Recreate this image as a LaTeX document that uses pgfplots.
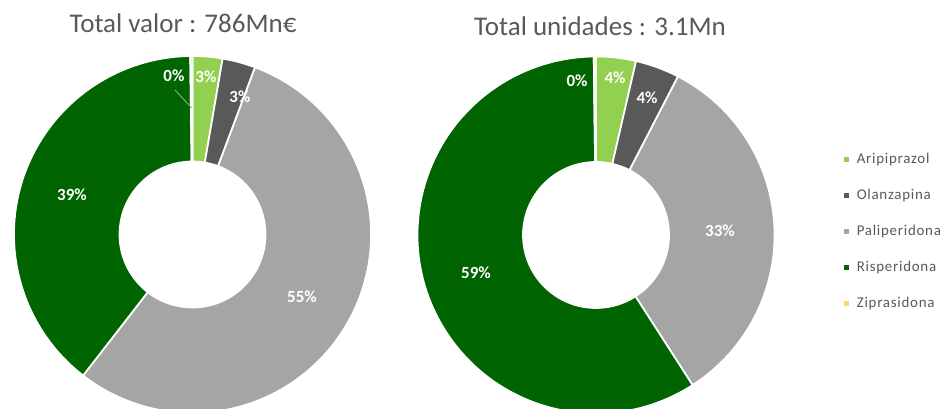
\documentclass[border=0pt]{standalone}
\usepackage{pgfplots}
\pgfplotsset{compat=1.18}
\usepackage{pgfplotstable}
\usepackage{fontspec}
\setmainfont{Carlito}
\newfontfamily\legfont[LetterSpace=5]{Carlito}

\definecolor{cArip}{HTML}{92D050}
\definecolor{cOlan}{HTML}{595959}
\definecolor{cPali}{HTML}{A5A5A5}
\definecolor{cRisp}{HTML}{006400}
\definecolor{cZipr}{HTML}{FFD966}
\definecolor{txt}{HTML}{595959}
\definecolor{leader}{HTML}{A6A6A6}

% share of each product (percent)
\pgfplotstableread{
name value color
Aripiprazol 2.7 cArip
Olanzapina 3.0 cOlan
Paliperidona 54.8 cPali
Risperidona 39.3 cRisp
Ziprasidona 0.2 cZipr
}\valor

\pgfplotstableread{
name value color
Aripiprazol 3.6 cArip
Olanzapina 4.0 cOlan
Paliperidona 33.3 cPali
Risperidona 58.9 cRisp
Ziprasidona 0.2 cZipr
}\unidades

\def\Ro{133.875pt}
\def\Ri{54.75pt}
\def\Rd{79.125pt}

\newcommand{\donut}[3]{%
  \gdef\acc{0}%
  \pgfplotstablegetrowsof{#3}%
  \pgfmathtruncatemacro\nrows{\pgfplotsretval-1}%
  \foreach \i in {0,...,\nrows}{%
    \pgfplotstablegetelem{\i}{value}\of{#3}\let\v\pgfplotsretval
    \pgfplotstablegetelem{\i}{color}\of{#3}\let\c\pgfplotsretval
    \pgfmathsetmacro\aS{90-3.6*\acc}%
    \pgfmathsetmacro\nacc{\acc+\v}%
    \pgfmathsetmacro\aE{90-3.6*\nacc}%
    \pgfmathsetmacro\aB{\aE+180}%
    \edef\tmp{\noexpand\fill[\c,draw=white,line width=1.3pt] (axis cs:#1,#2) ++(\aS:\Ro) arc[start angle=\aS,end angle=\aE,radius=\Ro] -- ++(\aB:\Rd) arc[start angle=\aE,end angle=\aS,radius=\Ri] -- cycle;}%
    \tmp
    \xdef\acc{\nacc}%
  }%
}

\tikzset{
  lab/.style={text=white,font=\fontsize{12.75}{14}\selectfont\bfseries,inner sep=0pt},
  ttl/.style={text=txt,font=\fontsize{20.25}{24}\selectfont,inner sep=0pt,anchor=base},
  leg/.style={text=txt,font=\legfont\fontsize{11.2}{13}\selectfont,inner sep=0pt,anchor=west},
}

\begin{document}
\begin{tikzpicture}
\begin{axis}[
  x=0.75pt, y=0.75pt,
  xmin=0, xmax=947, ymin=0, ymax=409,
  hide axis, clip=true,
]
\coordinate (ll) at (axis cs:0,0);
\coordinate (ur) at (axis cs:947,409);

\donut{192.5}{174.5}{\valor}
\donut{596}{174}{\unidades}

% titles
\node[ttl] at (axis cs:183,376) {Total valor : 786Mn€};
\node[ttl] at (axis cs:600,373) {Total unidades : 3.1Mn};

% data labels left
\draw[leader,line width=0.6pt] (axis cs:175,319) -- (axis cs:191.7,301);
\node[lab] at (axis cs:174,333) {0\%};
\node[lab] at (axis cs:206,332) {3\%};
\node[lab] at (axis cs:240,312) {3\%};
\node[lab] at (axis cs:72,214) {39\%};
\node[lab] at (axis cs:302,112) {55\%};

% data labels right
\node[lab] at (axis cs:577,328) {0\%};
\node[lab] at (axis cs:615,331) {4\%};
\node[lab] at (axis cs:647,311) {4\%};
\node[lab] at (axis cs:720,178) {33\%};
\node[lab] at (axis cs:476,136) {59\%};

% legend
\fill[cArip] (axis cs:844.2,246.5) rectangle (axis cs:849.2,251.5);
\node[leg] at (axis cs:856.5,249) {Aripiprazol};
\fill[cOlan] (axis cs:844.2,210.5) rectangle (axis cs:849.2,215.5);
\node[leg] at (axis cs:856.5,213) {Olanzapina};
\fill[cPali] (axis cs:844.2,174.5) rectangle (axis cs:849.2,179.5);
\node[leg] at (axis cs:856.5,177) {Paliperidona};
\fill[cRisp] (axis cs:844.2,138.5) rectangle (axis cs:849.2,143.5);
\node[leg] at (axis cs:856.5,141) {Risperidona};
\fill[cZipr] (axis cs:844.2,102.5) rectangle (axis cs:849.2,107.5);
\node[leg] at (axis cs:856.5,105) {Ziprasidona};
\end{axis}
\pgfresetboundingbox
\path (ll) rectangle (ur);
\end{tikzpicture}
\end{document}
